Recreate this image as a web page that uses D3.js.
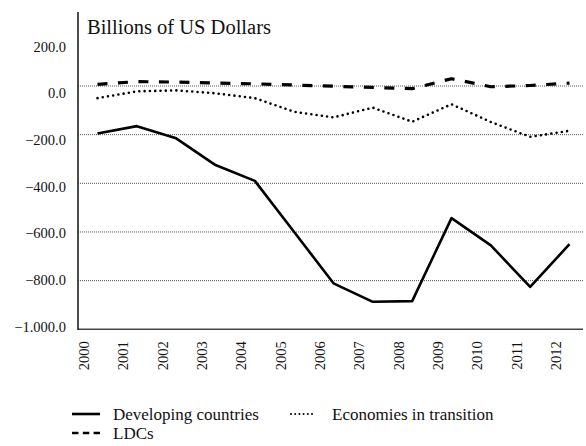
<!DOCTYPE html>
<html>
<head>
<meta charset="utf-8">
<script src="https://cdn.jsdelivr.net/npm/d3@7.9.0/dist/d3.min.js"></script>
<style>
  body { margin: 0; background: #fff; }
  svg { display: block; }
</style>
</head>
<body>
<div id="chart"></div>
<script>
const years = ['2000', '2001', '2002', '2003', '2004', '2005', '2006', '2007', '2008', '2009', '2010', '2011', '2012'];
const developing = [-195, -165, -215, -325, -390, -600, -811, -887, -884, -543, -655, -826, -650];
const transition = [-50, -22, -18, -30, -50, -106, -129, -89, -147, -75, -148, -209, -184];
const ldcs = [7, 18, 16, 12, 9, 4, -1, -6, -11, 30, -3, 2, 12];
const yTicks = [200, 0, -200, -400, -600, -800, -1000];
const gridTicks = [0, -200, -400, -600, -800];

const series = [
  { name: 'Developing countries', values: developing, dash: null, width: 2.6, cap: 'butt' },
  { name: 'Economies in transition', values: transition, dash: '0,5.3', width: 2.6, cap: 'round' },
  { name: 'LDCs', values: ldcs, dash: '10,10.5', width: 3.2, cap: 'butt' },
];

const width = 586;
const height = 446;
const plot = { left: 78, right: 583, top: 12, bottom: 329.3 };
const serif = "'Liberation Serif'";

const svg = d3.select('#chart').append('svg')
  .attr('width', width)
  .attr('height', height);

const x = d3.scalePoint()
  .domain(years)
  .range([97.5, 569.5]);

const y = d3.scaleLinear()
  .domain([-1000, 0])
  .range([plot.bottom, 86]);

// tick labels sit slightly off the gridlines in the original
const yLabel = d3.scaleLinear()
  .domain([-1000, 200])
  .range([326.5, 46.5]);

// gridlines
svg.append('g')
  .selectAll('line')
  .data(gridTicks)
  .join('line')
  .attr('x1', plot.left)
  .attr('x2', plot.right)
  .attr('y1', d => y(d))
  .attr('y2', d => y(d))
  .attr('stroke', '#555')
  .attr('stroke-width', 1)
  .attr('stroke-dasharray', '1,1');

// axes
svg.append('line')
  .attr('x1', plot.left).attr('x2', plot.right)
  .attr('y1', plot.bottom).attr('y2', plot.bottom)
  .attr('stroke', '#444')
  .attr('stroke-width', 1.4);

svg.append('line')
  .attr('x1', plot.left).attr('x2', plot.left)
  .attr('y1', plot.top).attr('y2', plot.bottom + 0.7)
  .attr('stroke', '#111')
  .attr('stroke-width', 1.5);

const fmt = d => d3.format(',.1f')(d).replace(',', '.');

svg.append('g')
  .selectAll('text')
  .data(yTicks)
  .join('text')
  .attr('x', 66)
  .attr('y', d => yLabel(d))
  .attr('dy', '0.35em')
  .attr('text-anchor', 'end')
  .style('font-family', serif)
  .style('font-size', '14.5px')
  .attr('fill', '#111')
  .text(fmt);

svg.append('g')
  .selectAll('text')
  .data(years)
  .join('text')
  .attr('transform', d => `translate(${x(d) - 13.5},${plot.bottom + 12}) rotate(-90)`)
  .attr('dy', '0.35em')
  .attr('text-anchor', 'end')
  .style('font-family', serif)
  .style('font-size', '14.5px')
  .attr('fill', '#111')
  .text(d => d);

svg.append('text')
  .attr('x', 87)
  .attr('y', 34)
  .style('font-family', serif)
  .style('font-size', '20.5px')
  .attr('fill', '#111')
  .text('Billions of US Dollars');

// lines
const line = d3.line()
  .x((d, i) => x(years[i]))
  .y(d => y(d));

svg.append('g')
  .selectAll('path')
  .data(series)
  .join('path')
  .attr('d', d => line(d.values))
  .attr('fill', 'none')
  .attr('stroke', '#000')
  .attr('stroke-width', d => d.width)
  .attr('stroke-linecap', d => d.cap)
  .attr('stroke-linejoin', 'round')
  .attr('stroke-dasharray', d => d.dash);

// legend
const legendItems = [
  { s: series[0], x: 72, y: 414, len: 28, w: 2.6, dash: null, cap: 'butt' },
  { s: series[1], x: 291, y: 414, len: 23, w: 2, dash: '0,4.2', cap: 'round' },
  { s: series[2], x: 72, y: 433, len: 28, w: 2.6, dash: '6.5,4.3', cap: 'butt' },
];

const legend = svg.append('g')
  .selectAll('g')
  .data(legendItems)
  .join('g')
  .attr('transform', d => `translate(${d.x},${d.y})`);

legend.append('line')
  .attr('x1', 0)
  .attr('x2', d => d.len)
  .attr('stroke', '#000')
  .attr('stroke-width', d => d.w)
  .attr('stroke-linecap', d => d.cap)
  .attr('stroke-dasharray', d => d.dash);

legend.append('text')
  .attr('x', 41)
  .attr('y', 5.5)
  .style('font-family', serif)
  .style('font-size', '17px')
  .attr('fill', '#111')
  .text(d => d.s.name);
</script>
</body>
</html>
